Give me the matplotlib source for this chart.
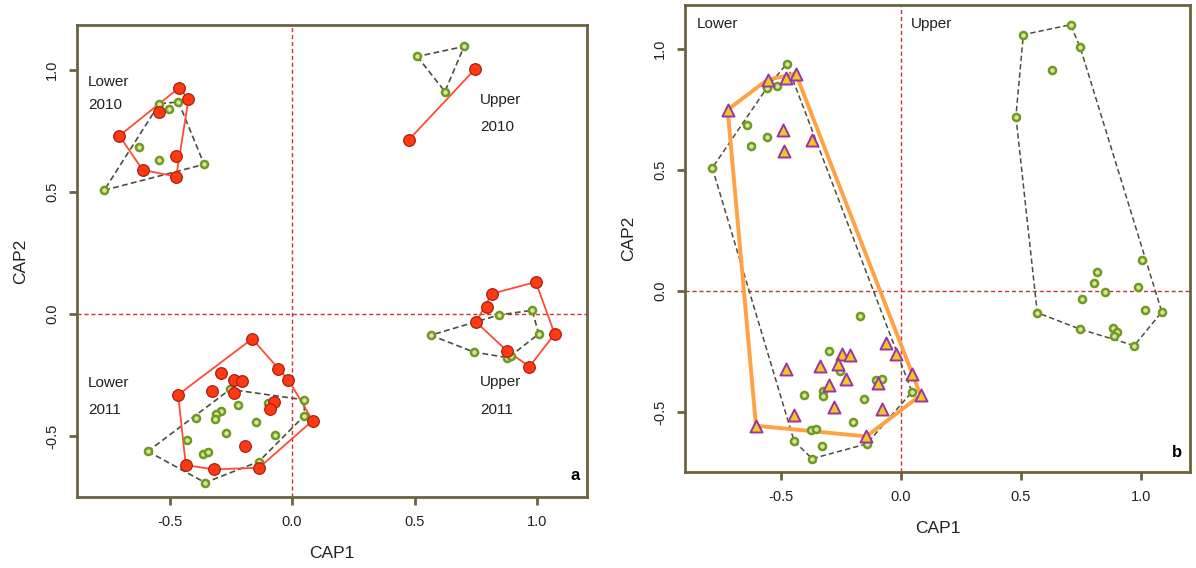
import numpy as np
import matplotlib
matplotlib.use("Agg")
import matplotlib.pyplot as plt
import matplotlib.transforms as mtransforms

plt.rcParams['font.family'] = ['Liberation Sans', 'DejaVu Sans']

# ---- Panel a: CAP scores by site (Lower/Upper) and year (2010/2011) ----
# red = one group, green = the other, per site/year cluster
a_low10_red_x = [-0.461, -0.423, -0.543, -0.705, -0.475, -0.610, -0.473]
a_low10_red_y = [0.927, 0.880, 0.829, 0.730, 0.648, 0.590, 0.563]
a_low10_grn_x = [-0.542, -0.501, -0.464, -0.624, -0.543, -0.359, -0.767]
a_low10_grn_y = [0.861, 0.840, 0.869, 0.686, 0.631, 0.613, 0.507]

a_up10_red_x = [0.747, 0.476]
a_up10_red_y = [1.003, 0.713]
a_up10_grn_x = [0.511, 0.702, 0.624]
a_up10_grn_y = [1.055, 1.096, 0.911]

a_up11_red_x = [0.995, 0.816, 0.796, 0.751, 1.072, 0.876, 0.969]
a_up11_red_y = [0.131, 0.083, 0.030, -0.033, -0.082, -0.150, -0.216]
a_up11_grn_x = [0.845, 0.980, 0.566, 1.007, 0.742, 0.879, 0.893]
a_up11_grn_y = [-0.004, 0.015, -0.087, -0.082, -0.156, -0.179, -0.171]

a_low11_red_x = [-0.163, -0.056, -0.015, -0.291, -0.238, -0.203, -0.325, -0.237,
                 -0.465, -0.072, -0.090, 0.084, -0.192, -0.434, -0.320, -0.135]
a_low11_red_y = [-0.102, -0.225, -0.270, -0.243, -0.270, -0.273, -0.317, -0.325,
                 -0.331, -0.361, -0.388, -0.437, -0.540, -0.619, -0.637, -0.630]
a_low11_grn_x = [-0.253, 0.050, -0.097, -0.219, -0.290, -0.311, -0.314, -0.392, -0.146,
                 0.050, -0.268, -0.071, -0.431, -0.589, -0.363, -0.342, -0.136, -0.355]
a_low11_grn_y = [-0.309, -0.352, -0.366, -0.373, -0.396, -0.410, -0.430, -0.426, -0.443,
                 -0.417, -0.486, -0.497, -0.518, -0.563, -0.574, -0.567, -0.605, -0.691]

# ---- Panel b: Lower (triangles + green) and Upper (green) ----
b_low_tri_x = [-0.556, -0.479, -0.438, -0.722, -0.490, -0.486, -0.370,
               -0.0625, -0.022, -0.246, -0.211, -0.336, -0.261, -0.479, 0.047,
               -0.229, -0.097, -0.301, 0.082, -0.279, -0.079, -0.446, -0.604, -0.144]
b_low_tri_y = [0.872, 0.877, 0.897, 0.748, 0.665, 0.579, 0.624,
               -0.216, -0.262, -0.262, -0.266, -0.310, -0.304, -0.324, -0.343,
               -0.365, -0.382, -0.390, -0.431, -0.481, -0.489, -0.514, -0.557, -0.601]
b_low_grn_x = [-0.476, -0.558, -0.515, -0.640, -0.558, -0.626, -0.786,
               -0.171, -0.300, -0.253, -0.105, -0.078, -0.325, -0.325, -0.404, -0.154,
               0.046, -0.201, -0.375, -0.354, -0.445, -0.330, -0.143, -0.370]
b_low_grn_y = [0.938, 0.839, 0.844, 0.686, 0.634, 0.599, 0.508,
               -0.103, -0.247, -0.329, -0.368, -0.364, -0.412, -0.434, -0.430, -0.445,
               -0.417, -0.540, -0.576, -0.569, -0.621, -0.639, -0.632, -0.693]
b_up_grn_x = [0.510, 0.707, 0.747, 0.628, 0.479, 1.006, 0.818, 0.804, 0.850, 0.988,
              0.755, 1.015, 0.568, 0.746, 0.882, 0.901, 0.888, 0.972, 1.087]
b_up_grn_y = [1.058, 1.099, 1.005, 0.913, 0.720, 0.128, 0.077, 0.032, -0.005, 0.015,
              -0.034, -0.081, -0.090, -0.158, -0.153, -0.171, -0.186, -0.226, -0.087]

tick_vals = [-0.5, 0.0, 0.5, 1.0]
tick_labels = ["-0.5", "0.0", "0.5", "1.0"]

FRAME = "#6b6440"
RED_FILL, RED_EDGE, RED_LINE = "#ff3a12", "#a82010", "#ff4a38"
GRN_FILL, GRN_EDGE, GRN_LINE = "#d8e69a", "#6f9a22", "#4f4d3c"
TRI_FILL, TRI_EDGE, ORANGE = "#f2c81c", "#9a35a8", "#ffa244"
REF = "#cc3333"


def hull(xs, ys):
    pts = sorted(set(zip(xs, ys)))
    if len(pts) < 3:
        return pts

    def cross(o, a, b):
        return (a[0] - o[0]) * (b[1] - o[1]) - (a[1] - o[1]) * (b[0] - o[0])

    lower, upper = [], []
    for p in pts:
        while len(lower) >= 2 and cross(lower[-2], lower[-1], p) <= 0:
            lower.pop()
        lower.append(p)
    for p in reversed(pts):
        while len(upper) >= 2 and cross(upper[-2], upper[-1], p) <= 0:
            upper.pop()
        upper.append(p)
    h = lower[:-1] + upper[:-1]
    return h + [h[0]]


def draw_hull(ax, xs, ys, **kw):
    h = hull(xs, ys)
    ax.plot([p[0] for p in h], [p[1] for p in h], zorder=2, **kw)


def style_axes(ax):
    for s in ax.spines.values():
        s.set_color(FRAME)
        s.set_linewidth(2.0)
    ax.set_xticks(tick_vals)
    ax.set_xticklabels(tick_labels)
    ax.set_yticks(tick_vals)
    ax.set_yticklabels(tick_labels, rotation=90, va='center')
    ax.tick_params(direction='out', length=6, width=2.0, color=FRAME,
                   labelsize=10.5, labelcolor="#222222", pad=7)
    ax.set_xlabel("CAP1", fontsize=12.5, labelpad=12, color="#222222")
    ax.set_ylabel("CAP2", fontsize=12.5, labelpad=12, color="#222222")
    ax.axhline(0, color=REF, lw=1.0, ls=(0, (3, 2)), zorder=1)
    ax.axvline(0, color=REF, lw=1.0, ls=(0, (3, 2)), zorder=1)


def green(ax, xs, ys):
    ax.scatter(xs, ys, s=26, c=GRN_FILL, edgecolors=GRN_EDGE, linewidths=1.8, zorder=3)


def red(ax, xs, ys):
    ax.scatter(xs, ys, s=70, c=RED_FILL, edgecolors=RED_EDGE, linewidths=0.9, zorder=4)


fig = plt.figure(figsize=(11.96, 5.68), dpi=100)
axa = fig.add_axes([0.0644, 0.125, 0.4264, 0.831])
axb = fig.add_axes([0.5727, 0.169, 0.4222, 0.822])

# ---- panel a ----
style_axes(axa)
axa.set_xlim(-0.878, 1.204)
axa.set_ylim(-0.75, 1.184)
dash = dict(color=GRN_LINE, lw=1.2, ls=(0, (3.5, 2)))
solid = dict(color=RED_LINE, lw=1.3)
for gx, gy, rx, ry in [(a_low10_grn_x, a_low10_grn_y, a_low10_red_x, a_low10_red_y),
                       (a_up10_grn_x, a_up10_grn_y, a_up10_red_x, a_up10_red_y),
                       (a_up11_grn_x, a_up11_grn_y, a_up11_red_x, a_up11_red_y),
                       (a_low11_grn_x, a_low11_grn_y, a_low11_red_x, a_low11_red_y)]:
    draw_hull(axa, gx, gy, **dash)
    draw_hull(axa, rx, ry, **solid)
    green(axa, gx, gy)
    red(axa, rx, ry)

txt = dict(fontsize=11, color="#222222", ha='left', va='center')
axa.text(-0.833, 0.951, "Lower", **txt)
axa.text(-0.833, 0.857, "2010", **txt)
axa.text(0.767, 0.877, "Upper", **txt)
axa.text(0.767, 0.766, "2010", **txt)
axa.text(-0.833, -0.283, "Lower", **txt)
axa.text(-0.833, -0.393, "2011", **txt)
axa.text(0.767, -0.279, "Upper", **txt)
axa.text(0.767, -0.393, "2011", **txt)
axa.text(0.985, 0.03, "a", transform=axa.transAxes, fontsize=12,
         fontweight='bold', ha='right', va='bottom')

# ---- panel b ----
style_axes(axb)
axb.set_xlim(-0.90, 1.204)
axb.set_ylim(-0.748, 1.18)
draw_hull(axb, b_low_grn_x, b_low_grn_y, color=GRN_LINE, lw=1.1, ls=(0, (3.5, 2)))
draw_hull(axb, b_up_grn_x, b_up_grn_y, color=GRN_LINE, lw=1.1, ls=(0, (3.5, 2)))
draw_hull(axb, b_low_tri_x, b_low_tri_y, color=ORANGE, lw=2.8)
green(axb, b_low_grn_x, b_low_grn_y)
green(axb, b_up_grn_x, b_up_grn_y)
axb.scatter(b_low_tri_x, b_low_tri_y, s=75, marker='^', c=TRI_FILL,
            edgecolors=TRI_EDGE, linewidths=1.4, zorder=4)
blend = mtransforms.blended_transform_factory(axb.transData, axb.transAxes)
axb.text(-0.85, 0.975, "Lower", transform=blend, fontsize=11,
         color="#222222", ha='left', va='top')
axb.text(0.04, 0.975, "Upper", transform=blend, fontsize=11,
         color="#222222", ha='left', va='top')
axb.text(0.985, 0.025, "b", transform=axb.transAxes, fontsize=12,
         fontweight='bold', ha='right', va='bottom')

fig.savefig("out.png", dpi=100)
